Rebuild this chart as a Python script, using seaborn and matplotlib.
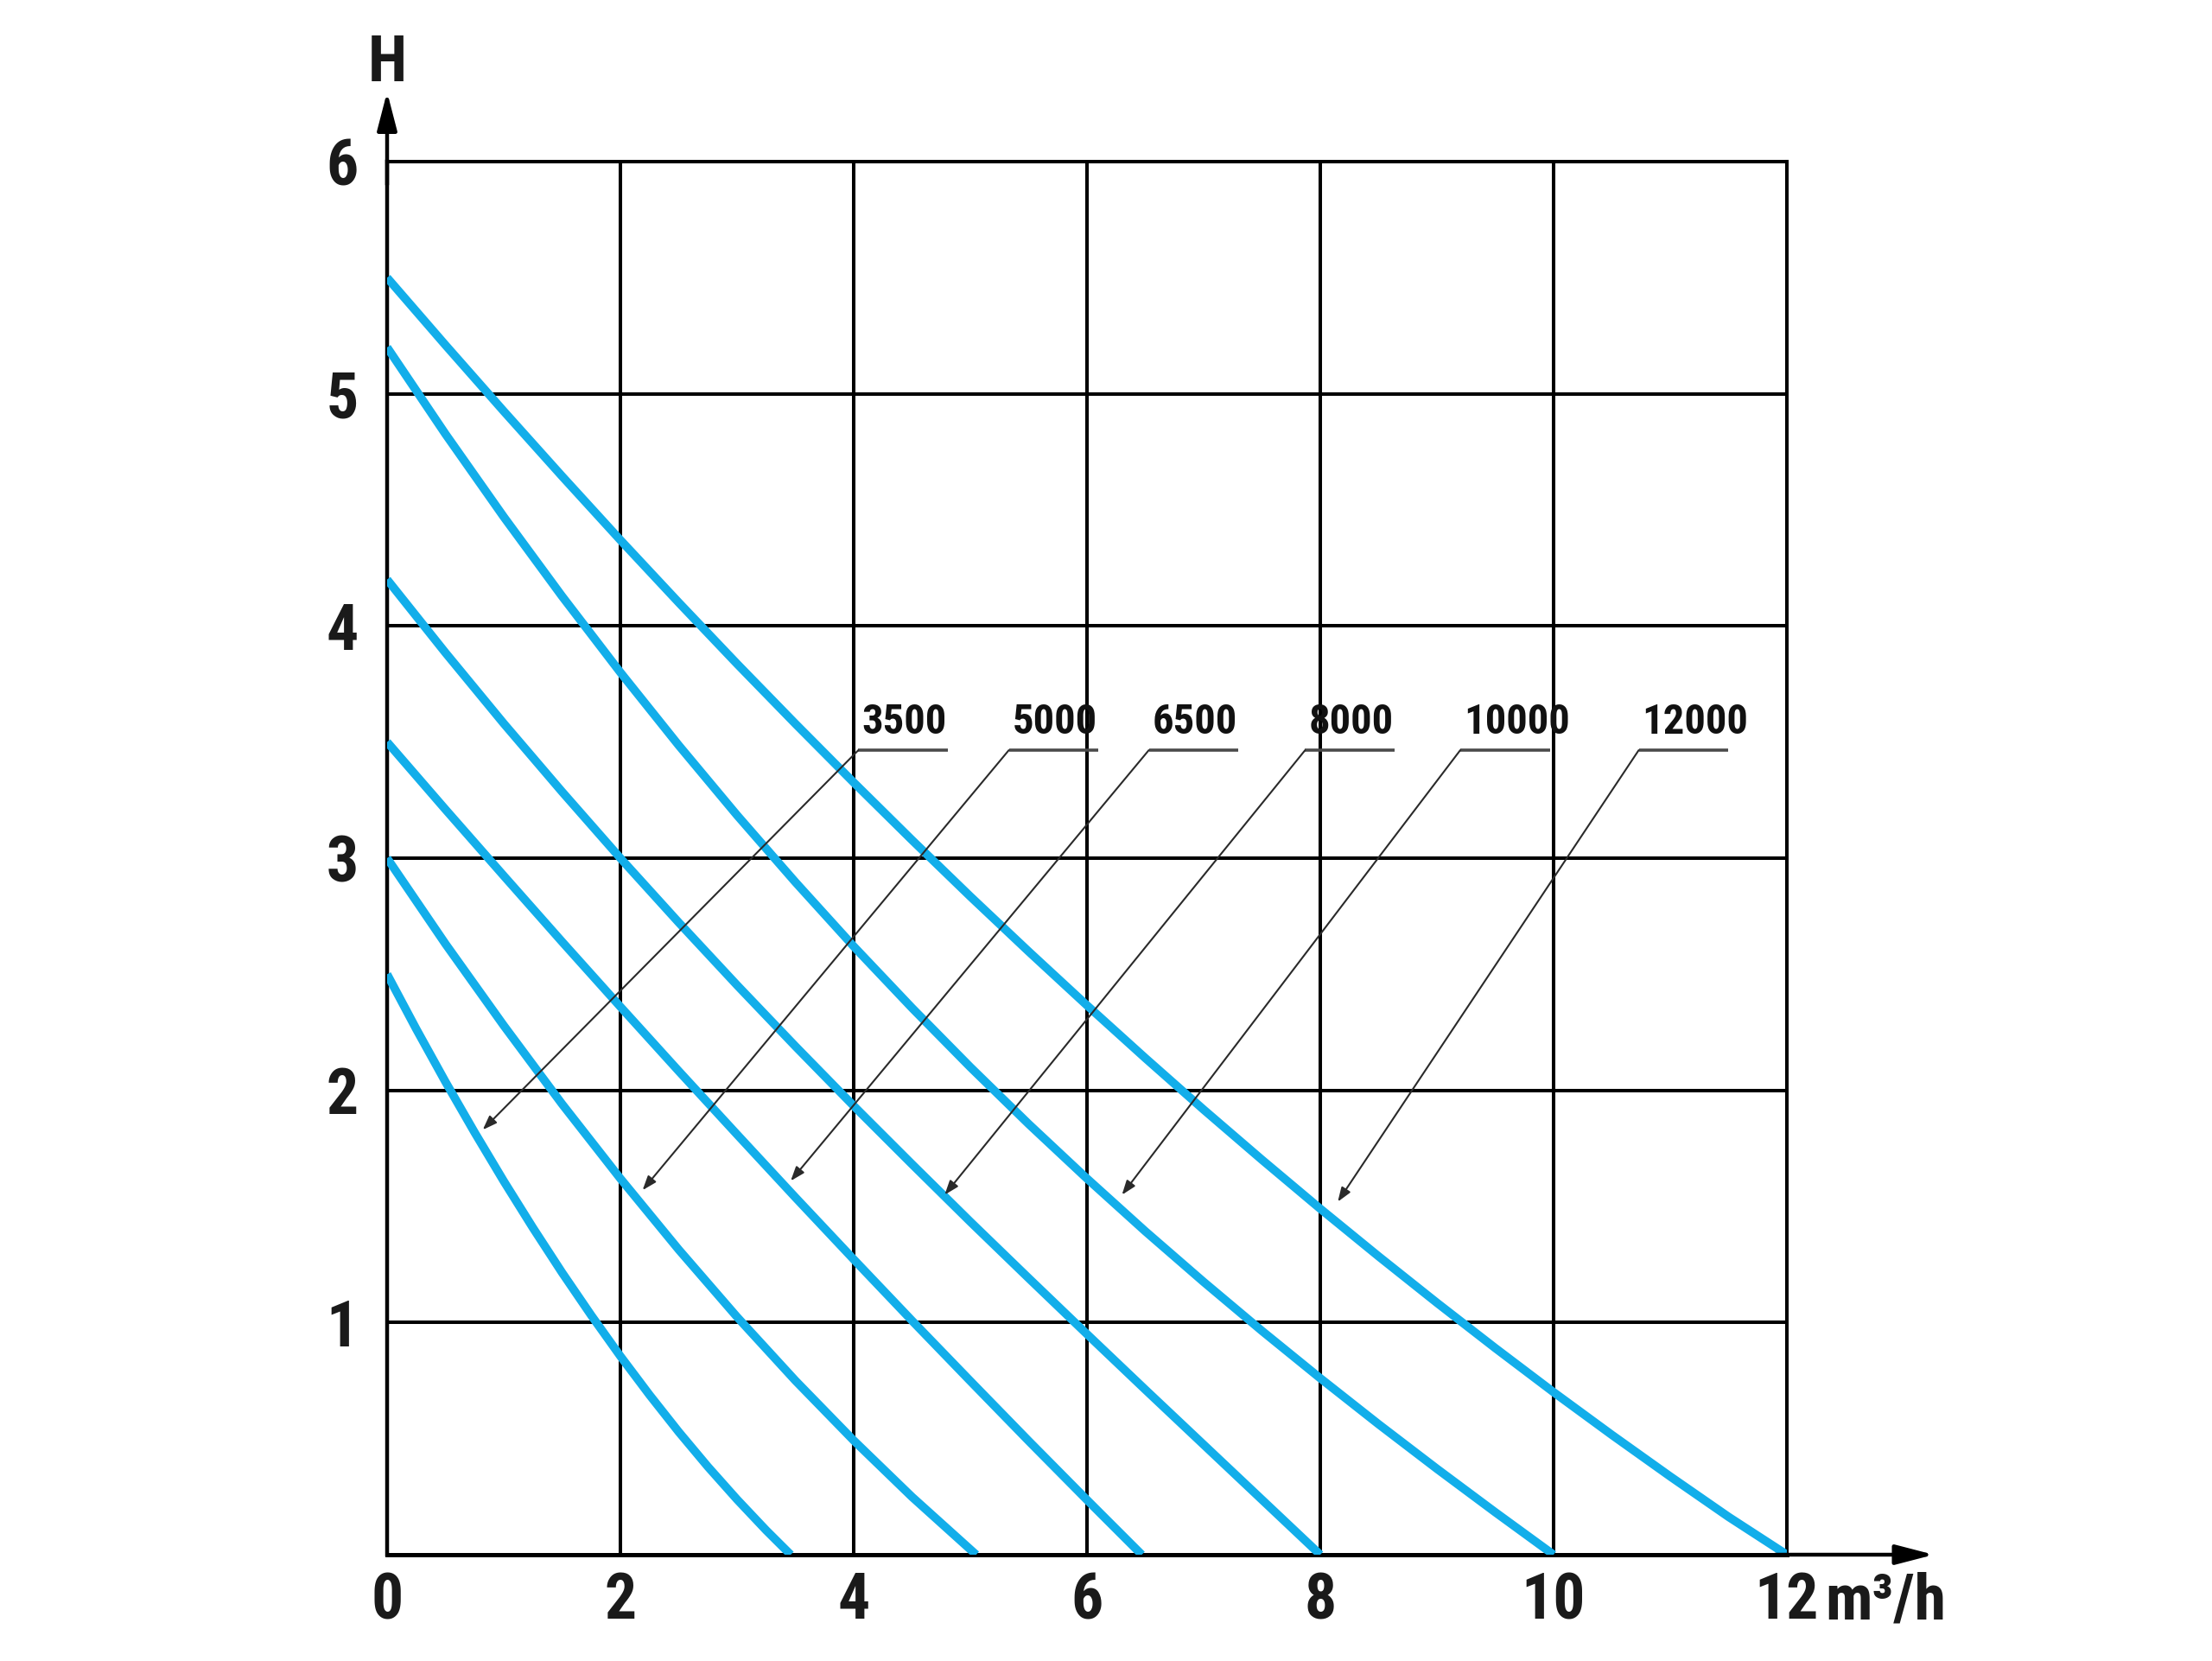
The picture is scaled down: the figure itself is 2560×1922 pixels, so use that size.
import matplotlib
matplotlib.use("Agg")
import matplotlib.pyplot as plt
from matplotlib import font_manager
import seaborn as sns
import pandas as pd

# ---------------- data ----------------
models = ["3500", "5000", "6500", "8000", "10000", "12000"]

flow_3500 = [0, 0.25, 0.5, 0.75, 1.0, 1.25, 1.5, 1.75, 2.0, 2.25, 2.5, 2.75, 3.0, 3.25, 3.46]
head_3500 = [2.5, 2.264, 2.037, 1.819, 1.609, 1.408, 1.215, 1.031, 0.855, 0.688,
             0.529, 0.379, 0.238, 0.105, 0]

flow_5000 = [0, 0.5, 1.0, 1.5, 2.0, 2.5, 3.0, 3.5, 4.0, 4.5, 5.05]
head_5000 = [3.0, 2.631, 2.279, 1.941, 1.62, 1.314, 1.024, 0.750, 0.492, 0.249, 0]

flow_6500 = [0, 0.5, 1.0, 1.5, 2.0, 2.5, 3.0, 3.5, 4.0, 4.5, 5.0, 5.5, 6.0, 6.47]
head_6500 = [3.5, 3.210, 2.924, 2.640, 2.36, 2.083, 1.810, 1.539, 1.272, 1.008,
             0.748, 0.490, 0.236, 0]

flow_8000 = [0, 0.5, 1.0, 1.5, 2.0, 2.5, 3.0, 3.5, 4.0, 4.5, 5.0, 5.5, 6.0, 6.5, 7.0, 7.5, 8.0]
head_8000 = [4.2, 3.885, 3.580, 3.286, 3.0, 2.723, 2.453, 2.190, 1.933, 1.682,
             1.434, 1.191, 0.95, 0.711, 0.474, 0.237, 0]

flow_10000 = [0, 0.5, 1.0, 1.5, 2.0, 2.5, 3.0, 3.5, 4.0, 4.5, 5.0,
              5.5, 6.0, 6.5, 7.0, 7.5, 8.0, 8.5, 9.0, 9.5, 10.0]
head_10000 = [5.2, 4.827, 4.470, 4.128, 3.80, 3.486, 3.185, 2.897, 2.620, 2.355, 2.10,
              1.855, 1.62, 1.393, 1.175, 0.964, 0.76, 0.562, 0.370, 0.183, 0]

flow_12000 = [0, 0.5, 1.0, 1.5, 2.0, 2.5, 3.0, 3.5, 4.0, 4.5, 5.0, 5.5,
              6.0, 6.5, 7.0, 7.5, 8.0, 8.5, 9.0, 9.5, 10.0, 10.5, 11.0, 11.5, 12.0]
head_12000 = [5.5, 5.210, 4.925, 4.645, 4.370, 4.101, 3.837, 3.579, 3.326, 3.078, 2.835, 2.598,
              2.366, 2.139, 1.917, 1.701, 1.490, 1.285, 1.085, 0.890, 0.70, 0.516, 0.337, 0.163, 0]

x_ticks = [0, 2, 4, 6, 8, 10, 12]
y_ticks = [1, 2, 3, 4, 5, 6]
x_tick_labels = ["0", "2", "4", "6", "8", "10", "12"]
y_tick_labels = ["1", "2", "3", "4", "5", "6"]
y_axis_label = "H"
x_unit_label = "m³/h"

# annotation layout (label anchor and arrow tip, in data units)
label_x = [4.04, 5.33, 6.53, 7.87, 9.20, 10.73]
label_y = 3.465
tip_x = [0.82, 2.19, 3.46, 4.78, 6.30, 8.15]
tip_y = [1.83, 1.57, 1.61, 1.55, 1.55, 1.52]

# ---------------- build table ----------------
series = {
    "3500": (flow_3500, head_3500),
    "5000": (flow_5000, head_5000),
    "6500": (flow_6500, head_6500),
    "8000": (flow_8000, head_8000),
    "10000": (flow_10000, head_10000),
    "12000": (flow_12000, head_12000),
}
rows = []
for m in models:
    fx, hy = series[m]
    for a, b in zip(fx, hy):
        rows.append({"model": m, "flow": a, "head": b})
df = pd.DataFrame(rows)

# ---------------- font ----------------
names = {f.name for f in font_manager.fontManager.ttflist}
primary = "Roboto Condensed" if "Roboto Condensed" in names else "Liberation Sans"
FAM = [primary, "DejaVu Sans"]

sns.set_style("white")
plt.rcParams["font.family"] = FAM

BLUE = "#12AEEA"
GRID_LW = 2.9

fig = plt.figure(figsize=(25.6, 19.22), dpi=100)
ax = fig.add_axes([0.175, 0.064, 0.6328, 0.8387])

sns.lineplot(data=df, x="flow", y="head", hue="model", hue_order=models,
             palette={m: BLUE for m in models}, estimator=None, sort=False,
             linewidth=7.0, legend=False, ax=ax)
for ln in ax.get_lines():
    ln.set_solid_capstyle("butt")
    ln.set_solid_joinstyle("round")
    ln.set_zorder(3)

ax.set_xlim(0, 12)
ax.set_ylim(0, 6)
ax.set_xticks(x_ticks)
ax.set_xticklabels(x_tick_labels)
ax.set_yticks(y_ticks)
ax.set_yticklabels(y_tick_labels)
ax.set_xlabel("")
ax.set_ylabel("")

ax.grid(True, color="black", linewidth=GRID_LW)
ax.set_axisbelow(True)
for sp in ax.spines.values():
    sp.set_visible(True)
    sp.set_color("black")
    sp.set_linewidth(GRID_LW)
ax.spines["bottom"].set_linewidth(3.6)
ax.spines["left"].set_linewidth(3.2)

TICK_FS = 53
XPAD = 14
ax.tick_params(axis="both", length=0, labelsize=TICK_FS, colors="#1a1a1a")
ax.tick_params(axis="x", pad=XPAD)
ax.tick_params(axis="y", pad=24)
for t in ax.get_xticklabels() + ax.get_yticklabels():
    t.set_fontweight("bold")
    t.set_family(FAM)

# axis arrows
arrow_kw = dict(arrowstyle="-|>,head_length=2.7,head_width=0.7", mutation_scale=10,
                lw=3.2, color="black", shrinkA=0, shrinkB=0)
ax.annotate("", xy=(0, 6.30), xytext=(0, 5.9), xycoords="data",
            arrowprops=arrow_kw, annotation_clip=False)
ax.annotate("", xy=(13.26, 0), xytext=(11.9, 0), xycoords="data",
            arrowprops=arrow_kw, annotation_clip=False)

ax.text(0, 6.345, y_axis_label, ha="center", va="baseline", fontsize=TICK_FS,
        fontweight="bold", family=FAM, color="#1a1a1a", clip_on=False)
ax.annotate(x_unit_label, xy=(12.33, 0), xytext=(0, -XPAD), textcoords="offset points",
            ha="left", va="top", fontsize=TICK_FS, fontweight="bold", family=FAM,
            color="#1a1a1a", annotation_clip=False)

# series labels with leader arrows
UL_LEN = 0.77
for m, lx, txp, typ in zip(models, label_x, tip_x, tip_y):
    ax.plot([lx, lx + UL_LEN], [label_y, label_y], color="#4a4a4a", lw=2.6,
            solid_capstyle="butt", zorder=4)
    ax.text(lx + 0.03, label_y + 0.035, m, ha="left", va="bottom", fontsize=35,
            fontweight="bold", family=FAM, color="#111111", zorder=5)
    ax.annotate("", xy=(txp, typ), xytext=(lx, label_y),
                arrowprops=dict(arrowstyle="-|>,head_length=0.55,head_width=0.2",
                                mutation_scale=18, lw=1.5, color="#2a2a2a",
                                shrinkA=0, shrinkB=0), zorder=4)

fig.savefig("out.png", dpi=100, facecolor="white")
